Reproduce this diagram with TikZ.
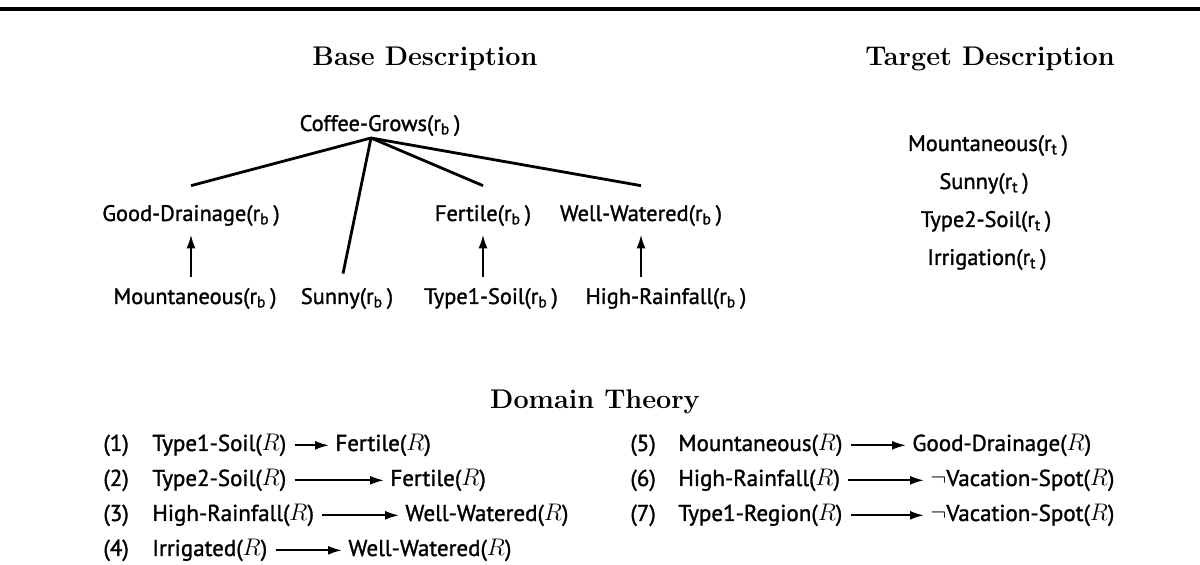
\documentclass[tikz,border=0pt]{standalone}
\usepackage{fontspec}
\newfontfamily\sansf[FakeBold=1.3]{PT Sans}
\usetikzlibrary{arrows.meta}
\newcommand\rs[1]{(r\textsubscript{#1}\,)}
\newcommand\RR{($R$)}
\begin{document}
\begin{tikzpicture}[x=0.5pt,y=-0.5pt,
  lbl/.style={font=\sansf\fontsize{11.2}{13}\selectfont, inner xsep=0pt, inner ysep=4pt, anchor=base},
  tlbl/.style={font=\sansf\fontsize{11.2}{13}\selectfont, inner sep=0pt, anchor=base},
  rl/.style={font=\sansf\fontsize{11.5}{13}\selectfont, inner sep=0pt, anchor=base west},
  head/.style={font=\bfseries\fontsize{13.5}{15}\selectfont, inner sep=0pt, anchor=base},
  tree/.style={line width=1.4pt},
  up/.style={line width=1.2pt, -{Latex[length=7pt,width=4.5pt]}},
  rarr/.style={line width=1pt, -{Latex[length=7pt,width=4.5pt]}, shorten <=4pt, shorten >=3pt}]
\useasboundingbox (0,0) rectangle (1200,565);
\fill (0,7) rectangle (1200,11);
% headings
\node[head] (base) at (425,66) {Base Description};
\node[head] (target) at (990,66) {Target Description};
\node[head] (dt) at (595,409) {Domain Theory};
% base tree
\node[tlbl] (cg) at (380,131) {Coffee-Grows\rs{b}};
\coordinate (apex) at ([xshift=-4.5pt,yshift=-3.5pt]cg.base);
\node[lbl] (gd) at (191,221) {Good-Drainage\rs{b}};
\node[lbl] (fe) at (483,221) {Fertile\rs{b}};
\node[lbl] (ww) at (641,221) {Well-Watered\rs{b}};
\node[lbl] (mo) at (195,304) {Mountaneous\rs{b}};
\node[lbl] (su) at (347,304) {Sunny\rs{b}};
\node[lbl] (t1) at (491,304) {Type1-Soil\rs{b}};
\node[lbl] (hr) at (666,304) {High-Rainfall\rs{b}};
\draw[tree] (apex) -- ([yshift=5.5pt]gd.north);
\draw[tree] (apex) -- ([xshift=-2pt,yshift=3pt]su.north);
\draw[tree] (apex) -- ([yshift=5.5pt]fe.north);
\draw[tree] (apex) -- ([yshift=5.5pt]ww.north);
\draw[up] ([yshift=1.5pt]gd.south |- mo.north) -- (gd.south);
\draw[up] ([yshift=1.5pt]fe.south |- t1.north) -- (fe.south);
\draw[up] ([yshift=1.5pt]ww.south |- hr.north) -- (ww.south);
% target
\node[tlbl] (tm) at (988,151) {Mountaneous\rs{t}};
\node[tlbl] (ts) at (984,189) {Sunny\rs{t}};
\node[tlbl] (tt) at (986,227) {Type2-Soil\rs{t}};
\node[tlbl] (ti) at (987,265) {Irrigation\rs{t}};
% domain theory
\node[rl] (n1) at (103,451) {(1)};
\node[rl] (a1) at (152,451) {Type1-Soil\RR};
\node[rl] (b1) at (335,451) {Fertile\RR};
\node[rl] (n2) at (103,486) {(2)};
\node[rl] (a2) at (152,486) {Type2-Soil\RR};
\node[rl] (b2) at (390,486) {Fertile\RR};
\node[rl] (n3) at (103,521) {(3)};
\node[rl] (a3) at (152,521) {High-Rainfall\RR};
\node[rl] (b3) at (405,521) {Well-Watered\RR};
\node[rl] (n4) at (103,556) {(4)};
\node[rl] (a4) at (152,556) {Irrigated\RR};
\node[rl] (b4) at (348,556) {Well-Watered\RR};
\node[rl] (n5) at (630,451) {(5)};
\node[rl] (a5) at (678,451) {Mountaneous\RR};
\node[rl] (b5) at (912,451) {Good-Drainage\RR};
\node[rl] (n6) at (630,486) {(6)};
\node[rl] (a6) at (678,486) {High-Rainfall\RR};
\node[rl] (b6) at (930,486) {$\neg$Vacation-Spot\RR};
\node[rl] (n7) at (630,521) {(7)};
\node[rl] (a7) at (678,521) {Type1-Region\RR};
\node[rl] (b7) at (930,521) {$\neg$Vacation-Spot\RR};
\foreach \i in {1,...,7} {\draw[rarr] (a\i.east) -- (b\i.west);}
\end{tikzpicture}
\end{document}
